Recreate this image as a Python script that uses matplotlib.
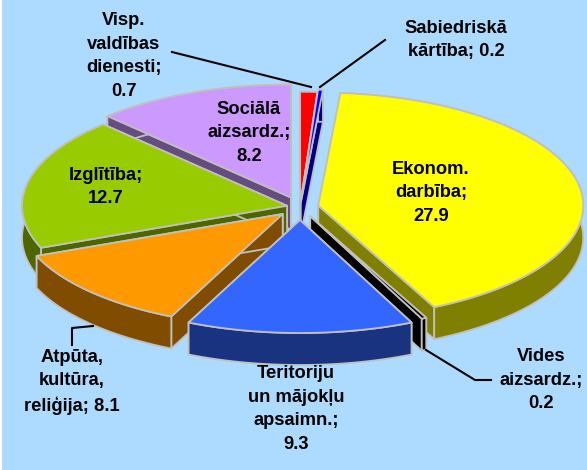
import numpy as np
import matplotlib
matplotlib.use("Agg")
import matplotlib.pyplot as plt
from matplotlib.patches import Polygon, Rectangle

plt.rcParams['font.family'] = ['Liberation Sans', 'DejaVu Sans']

# --- data, clockwise from the top ---
names = ["Ekonom.", "Vides", "Teritoriju", "Atpūta", "Izglītība", "Sociālā", "Visp.", "Sabiedriskā"]
values = [27.9, 0.2, 9.3, 8.1, 12.7, 8.2, 0.7, 0.2]

# --- style ---
top_colors = ["#FFFF00", "#000000", "#3366FF", "#FF9900", "#99CC00", "#CC99FF", "#FF0000", "#0000FF"]
side_colors = ["#808000", "#000000", "#1A3380", "#804D00", "#4D6600", "#664D80", "#800000", "#000080"]
explode = [0.07, 0.09, 0.115, 0.09, 0.05, 0.09, 0.02, 0.04]
draw_order = [6, 7, 5, 0, 4, 3, 1, 2]
start_angle = 4.8
cx, cy = 300, 207
rx, ry = 265, 113
depth = 32
edge = "#C0C0C0"

fig = plt.figure(figsize=(5.87, 4.70), dpi=100)
ax = fig.add_axes([0, 0, 1, 1])
ax.set_xlim(0, 587)
ax.set_ylim(470, 0)
ax.axis("off")
ax.add_patch(Rectangle((2, 0), 585, 470, facecolor="#ADDBFF", edgecolor="none"))

# angles come from the values
sweep = np.array(values) / sum(values) * 360
starts = start_angle + np.concatenate([[0], np.cumsum(sweep)[:-1]])


def point(a, x0, y0):
    t = np.radians(a)
    return x0 + rx * np.sin(t), y0 - ry * np.cos(t)


for i in draw_order:
    a0, a1 = starts[i], starts[i] + sweep[i]
    mid = np.radians((a0 + a1) / 2)
    x0 = cx + explode[i] * rx * np.sin(mid)
    y0 = cy - explode[i] * ry * np.cos(mid)
    angs = np.linspace(a0, a1, 80)
    xs, ys = point(angs, x0, y0)
    arc = np.column_stack([xs, ys])
    apex = np.array([x0, y0])
    down = np.array([0, depth])

    # cut faces, rim, then the top on top of them
    for p in (arc[0], arc[-1]):
        ax.add_patch(Polygon([apex, p, p + down, apex + down], facecolor=side_colors[i],
                             edgecolor=edge, lw=1.3, joinstyle="round"))
    rim = np.vstack([arc, (arc + down)[::-1]])
    ax.add_patch(Polygon(rim, facecolor=side_colors[i], edgecolor=edge, lw=1.3, joinstyle="round"))
    ax.add_patch(Polygon(np.vstack([apex, arc]), facecolor=top_colors[i], edgecolor=edge,
                         lw=1.3, joinstyle="round"))

# --- leader lines ---
ax.plot([172, 311], [52, 87], color="black", lw=1.5)
ax.plot([385, 320], [40, 87], color="black", lw=1.5)
ax.plot([426, 475, 491], [350, 380, 380], color="black", lw=1.5)
ax.plot([72, 72, 93], [345, 328, 326], color="black", lw=1.5)

# --- labels ---
labels = [
    (431, 193, "Ekonom.\ndarbība;\n27.9"),
    (541, 380, "Vides\naizsardz.;\n0.2"),
    (296, 409, "Teritoriju\nun mājokļu\napsaimn.;\n9.3"),
    (72, 382, "Atpūta,\nkultūra,\nreliģija; 8.1"),
    (106, 187, "Izglītība;\n12.7"),
    (249, 133, "Sociālā\naizsardz.;\n8.2"),
    (124, 56, "Visp.\nvaldības\ndienesti;\n0.7"),
    (456, 40, "Sabiedriskā\nkārtība; 0.2"),
]
for x, y, txt in labels:
    ax.text(x, y, txt, ha="center", va="center", fontsize=13.2, fontweight="bold",
            color="black", linespacing=1.5)

fig.savefig("out.png", dpi=100)
